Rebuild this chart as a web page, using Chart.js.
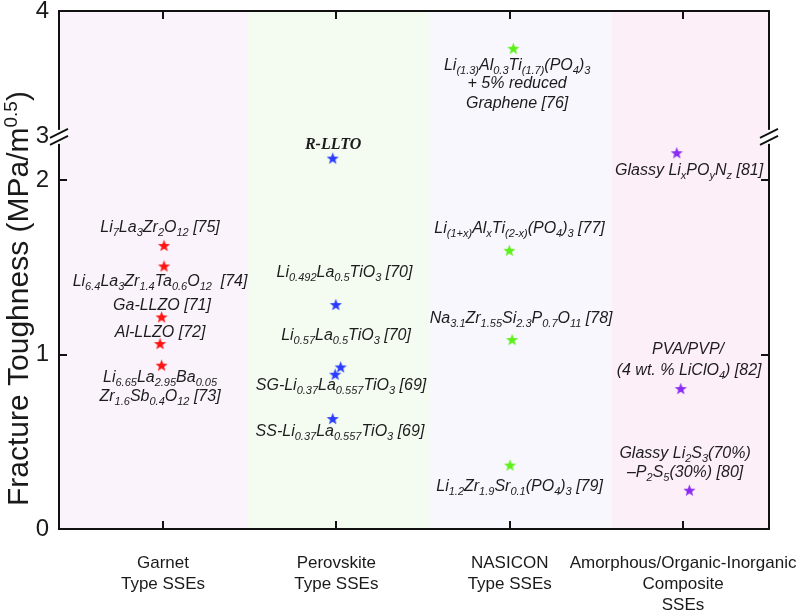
<!DOCTYPE html>
<html><head><meta charset="utf-8">
<script src="https://cdn.jsdelivr.net/npm/chart.js@4/dist/chart.umd.min.js"></script>
<style>html,body{margin:0;padding:0;background:#fff;} #wrap{width:800px;height:611px;}</style>
</head><body><div id="wrap"><canvas id="c" width="800" height="611"></canvas></div>
<script>
// ---------- data ----------
const categories = [["Garnet","Type SSEs"],["Perovskite","Type SSEs"],["NASICON","Type SSEs"],["Amorphous/Organic-Inorganic","Composite","SSEs"]];
const categoryX = [1, 2, 3, 4];
const yTickValues = [0, 1, 2, 3, 4];
const yTickLabels = ["0", "1", "2", "3", "4"];
const bandEdges = [0.4, 1.49, 2.54, 3.59, 4.496];

const garnetX = [1.006, 1.006, 0.992, 0.983, 0.992];
const garnetY = [1.627, 1.509, 1.217, 1.064, 0.940];
const perovskiteX = [1.979, 1.997, 2.025, 1.993, 1.979];
const perovskiteY = [2.128, 1.288, 0.930, 0.888, 0.634];
const nasiconX = [3.021, 2.998, 3.014, 3.002];
const nasiconY = [3.704, 1.599, 1.087, 0.367];
const amorphousX = [3.964, 3.987, 4.037];
const amorphousY = [2.159, 0.806, 0.223];

// annotation texts (_{} = subscript), anchored in data units
const annotations = [
  {x: 0.983, y: 1.702, t: "Li_{7}La_{3}Zr_{2}O_{12} [75]"},
  {x: 0.983, y: 1.393, t: "Li_{6.4}La_{3}Zr_{1.4}Ta_{0.6}O_{12}  [74]"},
  {x: 0.994, y: 1.255, t: "Ga-LLZO [71]"},
  {x: 0.983, y: 1.100, t: "Al-LLZO [72]"},
  {x: 0.983, y: 0.842, t: "Li_{6.65}La_{2.95}Ba_{0.05}"},
  {x: 0.983, y: 0.734, t: "Zr_{1.6}Sb_{0.4}O_{12} [73]"},
  {x: 1.981, y: 2.183, t: "R-LLTO", serif: true},
  {x: 2.047, y: 1.444, t: "Li_{0.492}La_{0.5}TiO_{3} [70]"},
  {x: 2.056, y: 1.083, t: "Li_{0.57}La_{0.5}TiO_{3} [70]"},
  {x: 2.027, y: 0.797, t: "SG-Li_{0.37}La_{0.557}TiO_{3} [69]"},
  {x: 2.021, y: 0.533, t: "SS-Li_{0.37}La_{0.557}TiO_{3} [69]"},
  {x: 3.043, y: 3.532, t: "Li_{(1.3)}Al_{0.3}Ti_{(1.7)}(PO_{4})_{3}"},
  {x: 3.043, y: 3.389, t: "+ 5% reduced"},
  {x: 3.043, y: 3.230, t: "Graphene [76]"},
  {x: 3.057, y: 1.696, t: "Li_{(1+x)}Al_{x}Ti_{(2-x)}(PO_{4})_{3} [77]"},
  {x: 3.066, y: 1.181, t: "Na_{3.1}Zr_{1.55}Si_{2.3}P_{0.7}O_{11} [78]"},
  {x: 3.057, y: 0.218, t: "Li_{1.2}Zr_{1.9}Sr_{0.1}(PO_{4})_{3} [79]"},
  {x: 4.035, y: 2.029, t: "Glassy Li_{x}PO_{y}N_{z} [81]"},
  {x: 4.029, y: 1.003, t: "PVA/PVP/"},
  {x: 4.035, y: 0.883, t: "(4 wt. % LiClO_{4}) [82]"},
  {x: 4.012, y: 0.407, t: "Glassy Li_{2}S_{3}(70%)"},
  {x: 4.012, y: 0.298, t: "\u2013P_{2}S_{5}(30%) [80]"}
];

// ---------- broken axis mapping ----------
const BREAK_LOW = 2.25, BREAK_HIGH = 3, UPPER_RATIO = 126 / 174.5;
function brk(v) { return v <= BREAK_LOW ? v : BREAK_LOW + (v - BREAK_HIGH) * UPPER_RATIO; }

const bandColors = ['#fbf3fb', '#f4fcf2', '#f7f7fd', '#fdeff8'];
const FONT = '"Liberation Sans", Arial, Helvetica, sans-serif';

function makeStar(color, R) {
  const c = document.createElement('canvas');
  const s = Math.ceil(R * 2 + 2);
  c.width = s; c.height = s;
  const g = c.getContext('2d');
  const cx = s / 2, cy = s / 2 + R * 0.1;
  const r = R * 0.42;
  g.beginPath();
  for (let i = 0; i < 10; i++) {
    const a = -Math.PI / 2 + i * Math.PI / 5;
    const rr = i % 2 ? r : R;
    g.lineTo(cx + rr * Math.cos(a), cy + rr * Math.sin(a));
  }
  g.closePath();
  g.fillStyle = color; g.fill();
  return c;
}

function pts(xs, ys) { return xs.map((x, i) => ({x: x, y: brk(ys[i])})); }

function parseRich(t) {
  const re = /_\{([^}]*)\}|\^\{([^}]*)\}|([^_^]+)/g; const out = []; let m;
  while ((m = re.exec(t))) {
    if (m[1] !== undefined) out.push({s: m[1], k: 'sub'});
    else if (m[2] !== undefined) out.push({s: m[2], k: 'sup'});
    else out.push({s: m[3], k: 'n'});
  }
  return out;
}

function drawRich(ctx, t, cx, by, mainFont, smallFont, align) {
  const segs = parseRich(t);
  let w = 0;
  segs.forEach(s => { ctx.font = s.k === 'n' ? mainFont : smallFont; s.w = ctx.measureText(s.s).width; w += s.w; });
  let x = align === 'left' ? cx : cx - w / 2;
  ctx.textAlign = 'left'; ctx.textBaseline = 'alphabetic';
  segs.forEach(s => {
    ctx.font = s.k === 'n' ? mainFont : smallFont;
    const dy = s.k === 'sub' ? 4 : (s.k === 'sup' ? -11 : 0);
    ctx.fillText(s.s, x, by + dy);
    x += s.w;
  });
}

const decor = {
  id: 'decor',
  beforeDatasetsDraw(chart) {
    const {ctx, chartArea: a, scales: {x}} = chart;
    ctx.save();
    for (let i = 0; i < bandColors.length; i++) {
      const x0 = x.getPixelForValue(bandEdges[i]), x1 = x.getPixelForValue(bandEdges[i + 1]);
      ctx.fillStyle = bandColors[i];
      ctx.fillRect(x0, a.top, x1 - x0, a.bottom - a.top);
    }
    ctx.restore();
  },
  afterDatasetsDraw(chart) {
    const {ctx, chartArea: a, scales: {x, y}} = chart;
    ctx.save();
    // annotations
    ctx.fillStyle = '#1c1c1c';
    annotations.forEach(an => {
      const px = x.getPixelForValue(an.x), py = y.getPixelForValue(brk(an.y));
      if (an.serif) drawRich(ctx, an.t, px, py, 'italic bold 16px "Liberation Serif", "Times New Roman", serif', 'italic bold 11px "Liberation Serif", serif');
      else drawRich(ctx, an.t, px, py, 'italic 16px ' + FONT, 'italic 11px ' + FONT);
    });
    // frame
    ctx.strokeStyle = '#111'; ctx.lineWidth = 2;
    ctx.strokeRect(a.left, a.top, a.right - a.left, a.bottom - a.top);
    // ticks (inward)
    ctx.beginPath();
    categoryX.forEach(v => {
      const px = Math.round(x.getPixelForValue(v));
      ctx.moveTo(px, a.top); ctx.lineTo(px, a.top + 8);
      ctx.moveTo(px, a.bottom); ctx.lineTo(px, a.bottom - 8);
    });
    [1, 2].forEach(v => {
      const py = Math.round(y.getPixelForValue(brk(v)));
      ctx.moveTo(a.left, py); ctx.lineTo(a.left + 8, py);
      ctx.moveTo(a.right, py); ctx.lineTo(a.right - 8, py);
    });
    ctx.stroke();
    // axis breaks
    const by = y.getPixelForValue(brk(BREAK_HIGH));
    [a.left, a.right].forEach(bx => {
      const dx = 9, s = 4.5, g = 3.5;
      ctx.fillStyle = '#fff';
      ctx.beginPath();
      ctx.moveTo(bx - dx, by + s - g); ctx.lineTo(bx + dx, by - s - g);
      ctx.lineTo(bx + dx, by - s + g); ctx.lineTo(bx - dx, by + s + g);
      ctx.closePath();
      ctx.fill();
      ctx.fillRect(bx - 1.5, by - s - g + 1, 3, 2 * (s + g) - 2);
      ctx.beginPath();
      ctx.moveTo(bx - dx, by + s - g); ctx.lineTo(bx + dx, by - s - g);
      ctx.moveTo(bx - dx, by + s + g); ctx.lineTo(bx + dx, by - s + g);
      ctx.strokeStyle = '#111'; ctx.lineWidth = 1.8; ctx.stroke();
    });
    ctx.restore();
  },
  afterDraw(chart) {
    const {ctx} = chart;
    ctx.save();
    ctx.translate(28, 506);
    ctx.rotate(-Math.PI / 2);
    ctx.fillStyle = '#1a1a1a';
    drawRich(ctx, 'Fracture Toughness (MPa/m^{0.5})', 0, 0, '30px ' + FONT, '19px ' + FONT, 'left');
    ctx.restore();
  }
};

const chart = new Chart(document.getElementById('c'), {
  type: 'scatter',
  data: {
    datasets: [
      {label: 'Garnet', data: pts(garnetX, garnetY), pointStyle: makeStar('#ff1414', 6.4)},
      {label: 'Perovskite', data: pts(perovskiteX, perovskiteY), pointStyle: makeStar('#2b3cff', 6.4)},
      {label: 'NASICON', data: pts(nasiconX, nasiconY), pointStyle: makeStar('#5ef01a', 6.4)},
      {label: 'Amorphous', data: pts(amorphousX, amorphousY), pointStyle: makeStar('#8a2cf2', 6.4)}
    ]
  },
  options: {
    responsive: false,
    animation: false,
    layout: {padding: {left: 0, right: 31, top: 11, bottom: 0}},
    plugins: {legend: {display: false}, tooltip: {enabled: false}},
    elements: {point: {radius: 6}},
    scales: {
      x: {
        type: 'linear', min: bandEdges[0], max: bandEdges[bandEdges.length - 1],
        grid: {display: false, drawTicks: false}, border: {display: false},
        afterBuildTicks: s => { s.ticks = categoryX.map(v => ({value: v})); },
        afterFit: s => { s.height = 82; s.paddingLeft = 0; s.paddingRight = 0; },
        ticks: {
          autoSkip: false, maxRotation: 0, minRotation: 0, padding: 24, color: '#1a1a1a',
          font: {family: FONT, size: 17, lineHeight: 21 / 17},
          callback: (v, i) => categories[i]
        }
      },
      y: {
        type: 'linear', min: 0, max: brk(4),
        grid: {display: false, drawTicks: false}, border: {display: false},
        afterBuildTicks: s => { s.ticks = yTickValues.map(v => ({value: brk(v)})); },
        afterFit: s => { s.width = 59; s.paddingTop = 0; s.paddingBottom = 0; },
        ticks: {
          autoSkip: false, padding: 10, color: '#1a1a1a',
          font: {family: FONT, size: 24},
          callback: (v, i) => yTickLabels[i]
        }
      }
    }
  },
  plugins: [decor]
});
</script></body></html>
